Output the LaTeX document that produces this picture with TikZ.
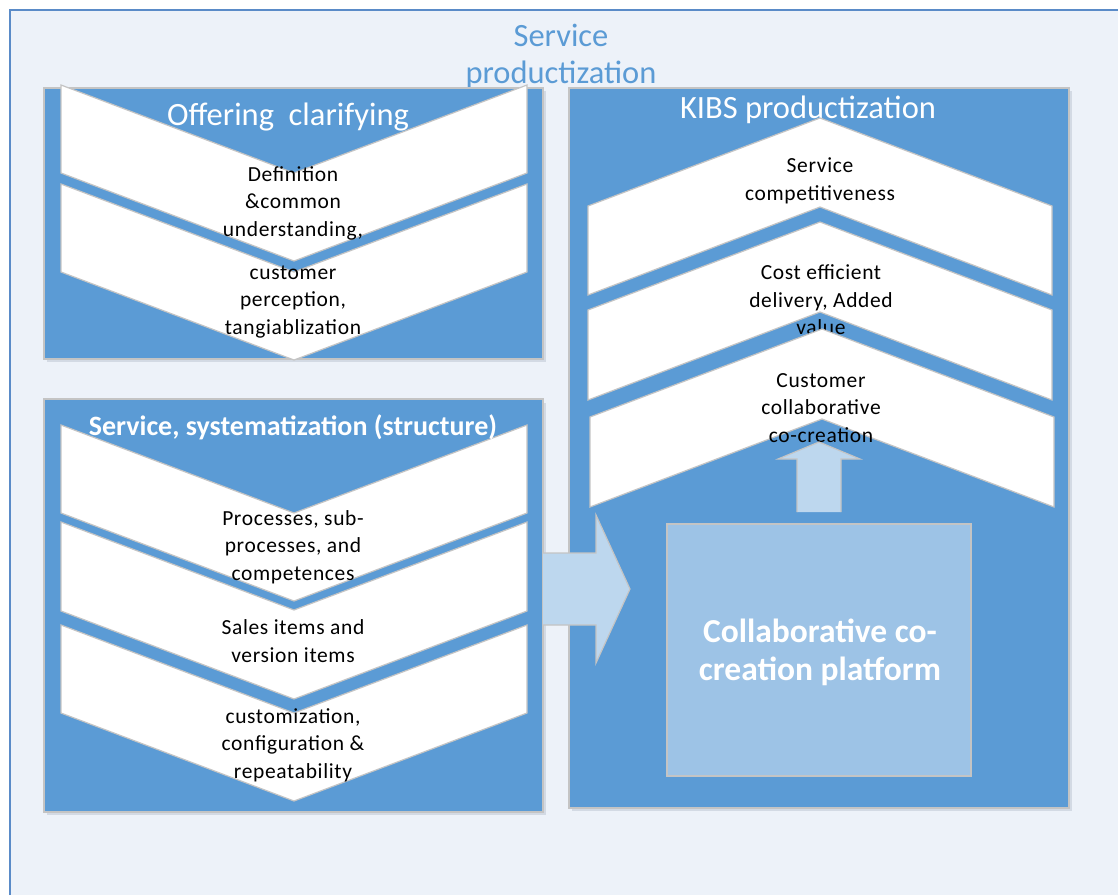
\documentclass[tikz,border=0pt]{standalone}
\usepackage{fontspec}
\setmainfont{Carlito}
\newfontfamily\bodyfont[LetterSpace=3]{Carlito}
\definecolor{panelblue}{HTML}{5B9BD5}
\definecolor{bgblue}{HTML}{EDF2F9}
\definecolor{framecol}{HTML}{5A8BC8}
\definecolor{edgegray}{HTML}{C4C4C4}
\definecolor{collabfill}{HTML}{9DC3E6}
\definecolor{arrowfill}{HTML}{BDD7EE}
\definecolor{shadowcol}{HTML}{D3DAE4}
\tikzset{
  panel/.style={fill=panelblue, draw=edgegray, line width=1.2pt},
  chev/.style={fill=white, draw=edgegray, line width=1.2pt, line join=miter},
  blockarrow/.style={fill=arrowfill, draw=edgegray, line width=1.2pt},
  bodytext/.style={align=center, text=black, font=\bodyfont\fontsize{21.5}{27.5}\selectfont, inner sep=0pt},
  titletext/.style={align=center, text=white, font=\fontsize{32.5}{36}\selectfont, inner sep=0pt},
}
\newcommand{\dchev}[4]{%
  \draw[chev] (#1,#3) -- ({(#1+#2)/2},#3+88) -- (#2,#3) -- (#2,#3+#4)
    -- ({(#1+#2)/2},#3+#4+88) -- (#1,#3+#4) -- cycle;}
\newcommand{\uchev}[4]{%
  \draw[chev] (#1,#3+88) -- ({(#1+#2)/2},#3) -- (#2,#3+88) -- (#2,#3+88+#4)
    -- ({(#1+#2)/2},#3+#4) -- (#1,#3+88+#4) -- cycle;}
\begin{document}
\begin{tikzpicture}[x=1pt,y=-1pt]
\useasboundingbox (0,0) rectangle (1118,895);
\fill[white] (0,0) rectangle (1118,895);
% outer frame
\fill[bgblue] (10,10) rectangle (1118,895);
\draw[framecol, line width=1.6pt] (10,895) -- (10,10) -- (1118,10);
\node[align=center, text=panelblue, font=\fontsize{32.5}{37}\selectfont, inner sep=0pt] (sp) at (561,56) {Service\\productization};

% shadows
\fill[shadowcol] (47,91) rectangle (546,362);
\fill[shadowcol] (47,403) rectangle (546,815);
\fill[shadowcol] (572,91) rectangle (1072,811);

% panels
\draw[panel] (44,88) rectangle (543,359);
\draw[panel] (44,399) rectangle (543,812);
\draw[panel] (569,88) rectangle (1069,808);

% panel 1: offering clarifying
\dchev{61}{527}{85}{88}
\dchev{61}{527}{184}{88}
\node[titletext] (oc) at (288,117) {Offering~ clarifying};
\node[bodytext] (oc1) at (293,203) {Definition\\\&common\\understanding,};
\node[bodytext] (oc2) at (293,302) {customer\\perception,\\tangiablization};

% panel 2: service systematization
\dchev{61}{527}{425}{88}
\dchev{61}{527}{522}{89}
\dchev{61}{527}{625}{88}
\node[align=center, text=white, font=\fontsize{28}{30}\bfseries\selectfont, inner sep=0pt] (ss) at (293,427) {Service, systematization (structure)};
\node[bodytext] (ss1) at (293,547) {Processes, sub-\\processes, and\\competences};
\node[bodytext] (ss2) at (293,641) {Sales items and\\version items};
\node[bodytext] (ss3) at (293,745) {customization,\\configuration \&\\repeatability};

% right panel: KIBS productization
\node[titletext] (kp) at (808,110) {KIBS productization};
\uchev{588}{1052}{118}{89}
\node[bodytext] (kp1) at (820,181) {Service\\competitiveness};
\uchev{588}{1052}{222}{90}
\node[bodytext] (kp2) at (821,300) {Cost efficient\\delivery, Added\\value};
\uchev{590}{1054}{329}{90}
\node[bodytext] (kp3) at (821,408) {Customer\\collaborative\\co-creation};

% big right arrow
\draw[blockarrow] (543,553) -- (596,553) -- (596,515) -- (630,589) -- (596,663) -- (596,625) -- (543,625);

% collaborative platform
\draw[fill=collabfill, draw=edgegray, line width=1.2pt] (667,524) rectangle (971,776);
\node[align=center, text=white, font=\fontsize{33.5}{38}\bfseries\selectfont, inner sep=0pt] (cp) at (820,652) {Collaborative co-\\creation platform};

% up arrow
\draw[blockarrow] (797,512) -- (797,459) -- (778,459) -- (819,442) -- (860,459) -- (841,459) -- (841,512);
\end{tikzpicture}
\end{document}
